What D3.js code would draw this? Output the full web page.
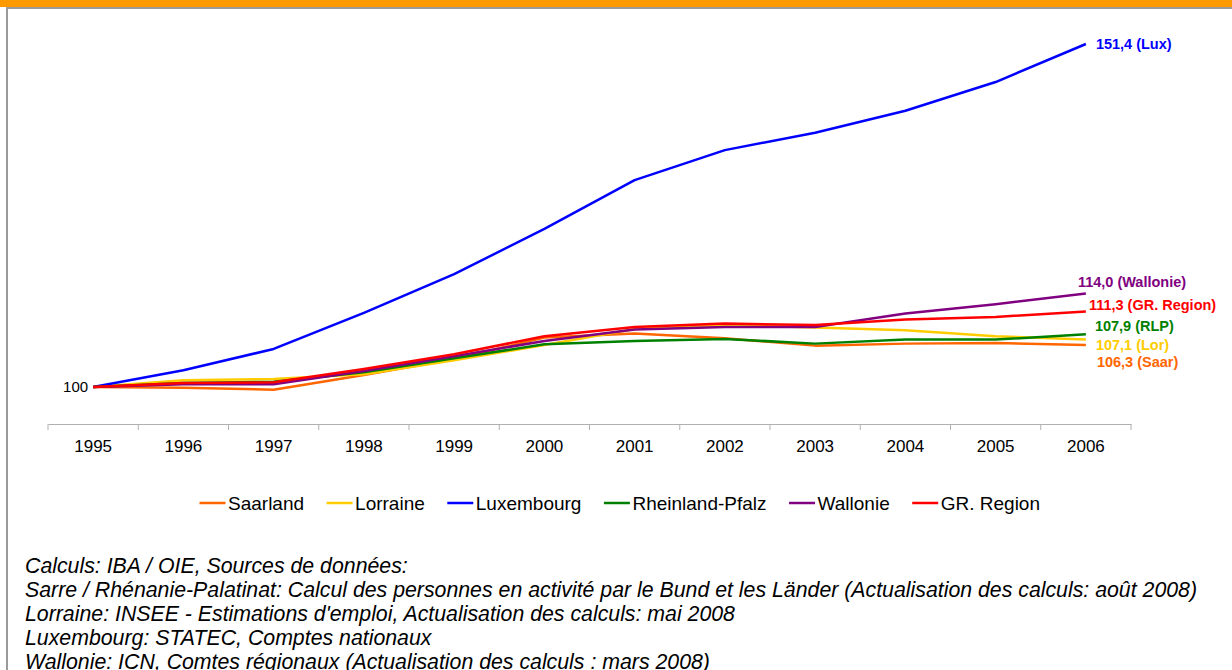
<!DOCTYPE html>
<html>
<head>
<meta charset="utf-8">
<script src="https://cdn.jsdelivr.net/npm/d3@7/dist/d3.min.js"></script>
<style>
  html, body { margin: 0; padding: 0; background: #fff; }
  svg { display: block; font-family: "Liberation Sans", Arial, sans-serif; }
</style>
</head>
<body>
<svg id="chart" width="1232" height="670"></svg>
<script>
// Employment index (1995 = 100)
const years = ["1995","1996","1997","1998","1999","2000","2001","2002","2003","2004","2005","2006"];

const saarland      = [100, 99.9, 99.6, 101.8, 104.2, 107.4, 108.0, 107.3, 106.2, 106.5, 106.6, 106.3];
const lorraine      = [100, 101.0, 101.2, 101.9, 104.0, 106.3, 108.7, 109.3, 108.9, 108.5, 107.6, 107.1];
const luxembourg    = [100, 102.5, 105.7, 111.1, 116.9, 123.7, 131.0, 135.5, 138.1, 141.4, 145.7, 151.4];
const rheinlandPfalz= [100, 100.6, 100.8, 102.2, 104.3, 106.4, 106.9, 107.2, 106.5, 107.1, 107.1, 107.9];
const wallonie      = [100, 100.4, 100.4, 102.4, 104.6, 106.9, 108.6, 109.0, 109.0, 111.0, 112.4, 114.0];
const grRegion      = [100, 100.6, 100.7, 102.7, 104.9, 107.6, 109.0, 109.5, 109.3, 110.1, 110.5, 111.3];

const seriesNames  = ["Saarland","Lorraine","Luxembourg","Rheinland-Pfalz","Wallonie","GR. Region"];
const endLabelTags = ["Saar","Lor","Lux","RLP","Wallonie","GR. Region"];
const seriesValues = [saarland, lorraine, luxembourg, rheinlandPfalz, wallonie, grRegion];
const colors       = ["#FF6600","#FFCC00","#0000FF","#008000","#800080","#FF0000"];

// end-label nudges (x, y) so the stacked labels do not collide
const labelNudge = [[11, 17],[10, 5],[10, 0],[9, -8],[-8, -12],[3, -7]];

const footerLines = [
  "Calculs: IBA / OIE, Sources de données:",
  "Sarre / Rhénanie-Palatinat: Calcul des personnes en activité par le Bund et les Länder (Actualisation des calculs: août 2008)",
  "Lorraine: INSEE - Estimations d'emploi, Actualisation des calculs: mai 2008",
  "Luxembourg: STATEC, Comptes nationaux",
  "Wallonie: ICN, Comtes régionaux (Actualisation des calculs : mars 2008)"
];

const svg = d3.select("#chart");

// frame: orange band on top, grey rules
svg.append("rect").attr("x", 0).attr("y", 0).attr("width", 1232).attr("height", 7).attr("fill", "#FF9900");
svg.append("rect").attr("x", 6).attr("y", 7).attr("width", 1226).attr("height", 2).attr("fill", "#9a9a9a");
svg.append("rect").attr("x", 6).attr("y", 7).attr("width", 2).attr("height", 663).attr("fill", "#9a9a9a");

const x = d3.scaleBand().domain(years).range([48, 1131]);
const y = d3.scaleLinear().domain([100, 151.4]).range([387, 44]);
const axisY = 424;

// category axis
const xAxis = svg.append("g")
  .attr("transform", `translate(0,${axisY})`)
  .call(d3.axisBottom(x).tickSize(0).tickPadding(16));
xAxis.select(".domain").attr("stroke", "#b0b0b0").attr("stroke-width", 1);
xAxis.selectAll("text").attr("font-size", "17px").attr("fill", "#000")
  .attr("font-family", "Liberation Sans, Arial, sans-serif");

// tick marks on category boundaries
const edges = years.map(d => x(d)).concat([x(years[years.length - 1]) + x.bandwidth()]);
svg.append("g").selectAll("line").data(edges).join("line")
  .attr("x1", d => d).attr("x2", d => d)
  .attr("y1", axisY).attr("y2", axisY + 6)
  .attr("stroke", "#b0b0b0").attr("stroke-width", 1);

// single value label on the left
const yAxis = svg.append("g")
  .attr("transform", `translate(${x(years[0]) + x.bandwidth() / 2},0)`)
  .call(d3.axisLeft(y).tickValues([100]).tickSize(0).tickPadding(5));
yAxis.select(".domain").remove();
yAxis.selectAll("text").attr("font-size", "15px").attr("fill", "#000")
  .attr("font-family", "Liberation Sans, Arial, sans-serif");

// lines
const line = d3.line()
  .x((d, i) => x(years[i]) + x.bandwidth() / 2)
  .y(d => y(d));

svg.append("g").selectAll("path").data(seriesValues).join("path")
  .attr("d", d => line(d))
  .attr("fill", "none")
  .attr("stroke", (d, i) => colors[i])
  .attr("stroke-width", 2.5)
  .attr("stroke-linejoin", "round");

// end labels
const fmt = v => d3.format(".1f")(v).replace(".", ",");
const lastX = x(years[years.length - 1]) + x.bandwidth() / 2;
svg.append("g").selectAll("text").data(seriesValues).join("text")
  .attr("x", (d, i) => lastX + labelNudge[i][0])
  .attr("y", (d, i) => y(d[d.length - 1]) + labelNudge[i][1])
  .attr("dy", "0.35em")
  .attr("font-size", "14.5px")
  .attr("font-weight", "bold")
  .attr("fill", (d, i) => colors[i])
  .text((d, i) => `${fmt(d[d.length - 1])} (${endLabelTags[i]})`);

// legend
const legend = svg.append("g").attr("transform", "translate(199.5,503)");
let lx = 0;
seriesNames.forEach((name, i) => {
  legend.append("line")
    .attr("x1", lx).attr("x2", lx + 26).attr("y1", 0).attr("y2", 0)
    .attr("stroke", colors[i]).attr("stroke-width", 2.5);
  const t = legend.append("text")
    .attr("x", lx + 28.5).attr("y", 0).attr("dy", "0.35em")
    .attr("font-size", "19px").attr("fill", "#000")
    .text(name);
  lx += 28.5 + t.node().getComputedTextLength() + 22.5;
});

// source notes
svg.append("g").selectAll("text").data(footerLines).join("text")
  .attr("x", 25)
  .attr("y", (d, i) => 573 + i * 24)
  .attr("font-size", "21.3px")
  .attr("font-style", "italic")
  .attr("fill", "#000")
  .text(d => d);
</script>
</body>
</html>
